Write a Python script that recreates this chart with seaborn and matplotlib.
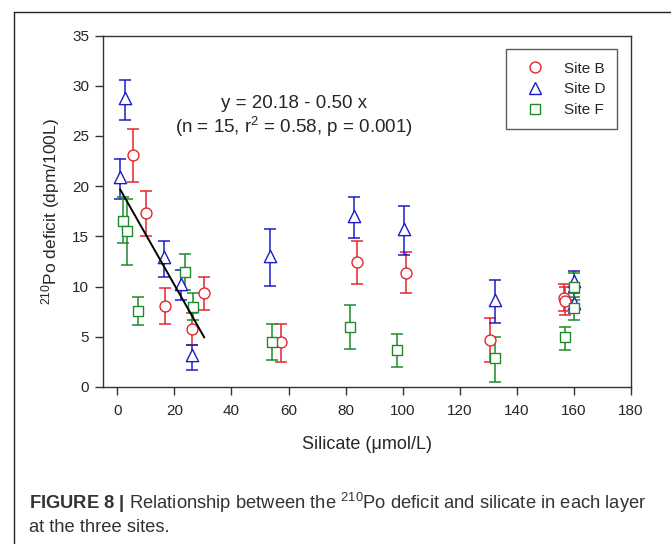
import numpy as np
import pandas as pd
import matplotlib
matplotlib.use("Agg")
import matplotlib.pyplot as plt
from matplotlib.lines import Line2D
import seaborn as sns

# ---------------- data ----------------
sites = ["Site B", "Site D", "Site F"]

b_x = [5.4, 10.1, 16.8, 26.3, 30.5, 57.4, 84.0, 101.0, 130.7, 156.5, 157.0]
b_y = [23.1, 17.3, 8.1, 5.8, 9.35, 4.45, 12.4, 11.4, 4.7, 8.9, 8.6]
b_lo = [20.45, 15.05, 6.3, 4.2, 7.7, 2.5, 10.3, 9.4, 2.5, 7.6, 7.2]
b_hi = [25.7, 19.5, 9.85, 7.35, 11.0, 6.3, 14.5, 13.4, 6.85, 10.3, 10.0]

d_x = [1.0, 2.8, 16.2, 22.2, 26.1, 53.6, 82.8, 100.5, 132.4, 160.0, 160.0]
d_y = [20.95, 28.75, 12.9, 10.3, 3.2, 13.0, 17.0, 15.7, 8.7, 10.6, 8.4]
d_lo = [18.7, 26.6, 11.0, 8.7, 1.7, 10.1, 14.8, 13.1, 6.4, 9.5, 7.35]
d_hi = [22.7, 30.6, 14.55, 11.65, 4.2, 15.7, 18.9, 18.0, 10.7, 11.6, 9.4]

f_x = [2.0, 3.4, 7.1, 23.7, 26.6, 54.2, 81.4, 97.9, 132.2, 156.9, 160.0, 160.0]
f_y = [16.5, 15.55, 7.6, 11.5, 8.0, 4.5, 6.0, 3.7, 2.9, 4.95, 10.0, 7.85]
f_lo = [14.3, 12.1, 6.2, 9.7, 6.7, 2.7, 3.8, 2.0, 0.5, 3.7, 8.65, 6.7]
f_hi = [18.9, 18.7, 9.0, 13.25, 9.35, 6.3, 8.2, 5.3, 5.0, 6.0, 11.35, 9.0]

# regression reported on the figure: y = 20.18 - 0.50 x  (surface points, silicate <= ~31)
reg_intercept = 20.18
reg_slope = -0.50
reg_xmax = 31

x_ticks = [0, 20, 40, 60, 80, 100, 120, 140, 160, 180]
y_ticks = [0, 5, 10, 15, 20, 25, 30, 35]

# ---------------- styling ----------------
sns.set_style("white")
plt.rcParams["font.family"] = ["Liberation Sans", "DejaVu Sans"]
plt.rcParams["mathtext.fontset"] = "custom"
plt.rcParams["mathtext.rm"] = "Liberation Sans"
plt.rcParams["mathtext.it"] = "Liberation Sans:italic"
plt.rcParams["mathtext.bf"] = "Liberation Sans:bold"

colors = {"Site B": "#e3262b", "Site D": "#1c1cc4", "Site F": "#1f8a2a"}
markers = {"Site B": "o", "Site D": "^", "Site F": "s"}
sizes = {"Site B": 62, "Site D": 78, "Site F": 46}

frames = []
for name, xs, ys, lo, hi in [("Site B", b_x, b_y, b_lo, b_hi),
                             ("Site D", d_x, d_y, d_lo, d_hi),
                             ("Site F", f_x, f_y, f_lo, f_hi)]:
    frames.append(pd.DataFrame({"site": name, "silicate": xs, "deficit": ys,
                                "lo": lo, "hi": hi}))
df = pd.concat(frames, ignore_index=True)

fig = plt.figure(figsize=(6.71, 5.44), dpi=100)
ax = fig.add_axes([103 / 671, 1 - 387 / 544, (631 - 103) / 671, (387 - 35.5) / 544])

# error bars
for s in sites:
    d = df[df.site == s]
    ax.errorbar(d.silicate, d.deficit,
                yerr=[d.deficit - d.lo, d.hi - d.deficit],
                fmt="none", ecolor=colors[s], elinewidth=1.1,
                capsize=4.3, capthick=1.1, zorder=2)

# markers
handles = []
for s in sites:
    d = df[df.site == s]
    sns.scatterplot(data=d, x="silicate", y="deficit", marker=markers[s],
                    s=sizes[s], facecolor="white", edgecolor=colors[s],
                    linewidth=1.0, ax=ax, zorder=3, legend=False)
    handles.append(Line2D([], [], linestyle="none", marker=markers[s],
                          markersize=np.sqrt(sizes[s]), markerfacecolor="white",
                          markeredgecolor=colors[s], markeredgewidth=1.0, label=s))

# regression line
reg_pts = df[df.silicate <= reg_xmax]
lx = np.array([reg_pts.silicate.min(), reg_pts.silicate.max()])
line_df = pd.DataFrame({"x": lx, "y": reg_intercept + reg_slope * lx})
sns.lineplot(data=line_df, x="x", y="y", color="black", linewidth=1.4, ax=ax, zorder=4)

ax.text(62, 28.2, "y = 20.18 - 0.50 x", ha="center", va="center", fontsize=13.5)
ax.text(62, 25.9, "(n = 15, r$^2$ = 0.58, p = 0.001)", ha="center", va="center", fontsize=13.5)

ax.set_xlim(-5, 180)
ax.set_ylim(0, 35)
ax.set_xticks(x_ticks)
ax.set_yticks(y_ticks)
ax.tick_params(axis="both", which="major", direction="out", length=6, width=1,
               labelsize=11, color="#333333", pad=4, top=False, right=False,
               bottom=True, left=True)
ax.tick_params(axis="x", pad=6)
for sp in ax.spines.values():
    sp.set_visible(True)
    sp.set_color("#333333")
    sp.set_linewidth(1.0)

ax.set_xlabel("Silicate (\u03bcmol/L)", fontsize=13, labelpad=13)
ax.set_ylabel("$^{210}$Po deficit (dpm/100L)", fontsize=12.5, labelpad=7)

leg = ax.legend(handles=handles, loc="upper right", bbox_to_anchor=(617.3 / 671, 1 - 49.3 / 544),
                bbox_transform=fig.transFigure, frameon=True, fancybox=False,
                edgecolor="#333333", fontsize=11, handletextpad=0.8,
                borderpad=0.8, labelspacing=0.45, borderaxespad=0,
                handlelength=2.2)
leg.get_frame().set_linewidth(1.0)

# outer frame of the figure panel
fig.add_artist(Line2D([14 / 671, 14 / 671], [0, 1 - 12 / 544], color="#222222",
                      linewidth=1.0, transform=fig.transFigure))
fig.add_artist(Line2D([14 / 671, 1], [1 - 12 / 544, 1 - 12 / 544], color="#222222",
                      linewidth=1.0, transform=fig.transFigure))

# caption
fig.text(29 / 671, 1 - 503 / 544,
         r"$\bf{FIGURE\ 8\ |}$ Relationship between the $^{210}$Po deficit and silicate in each layer",
         fontsize=13.2, color="#333333", va="center", ha="left")
fig.text(29 / 671, 1 - 527 / 544, "at the three sites.",
         fontsize=13.2, color="#333333", va="center", ha="left")

fig.savefig("out.png", dpi=100)
